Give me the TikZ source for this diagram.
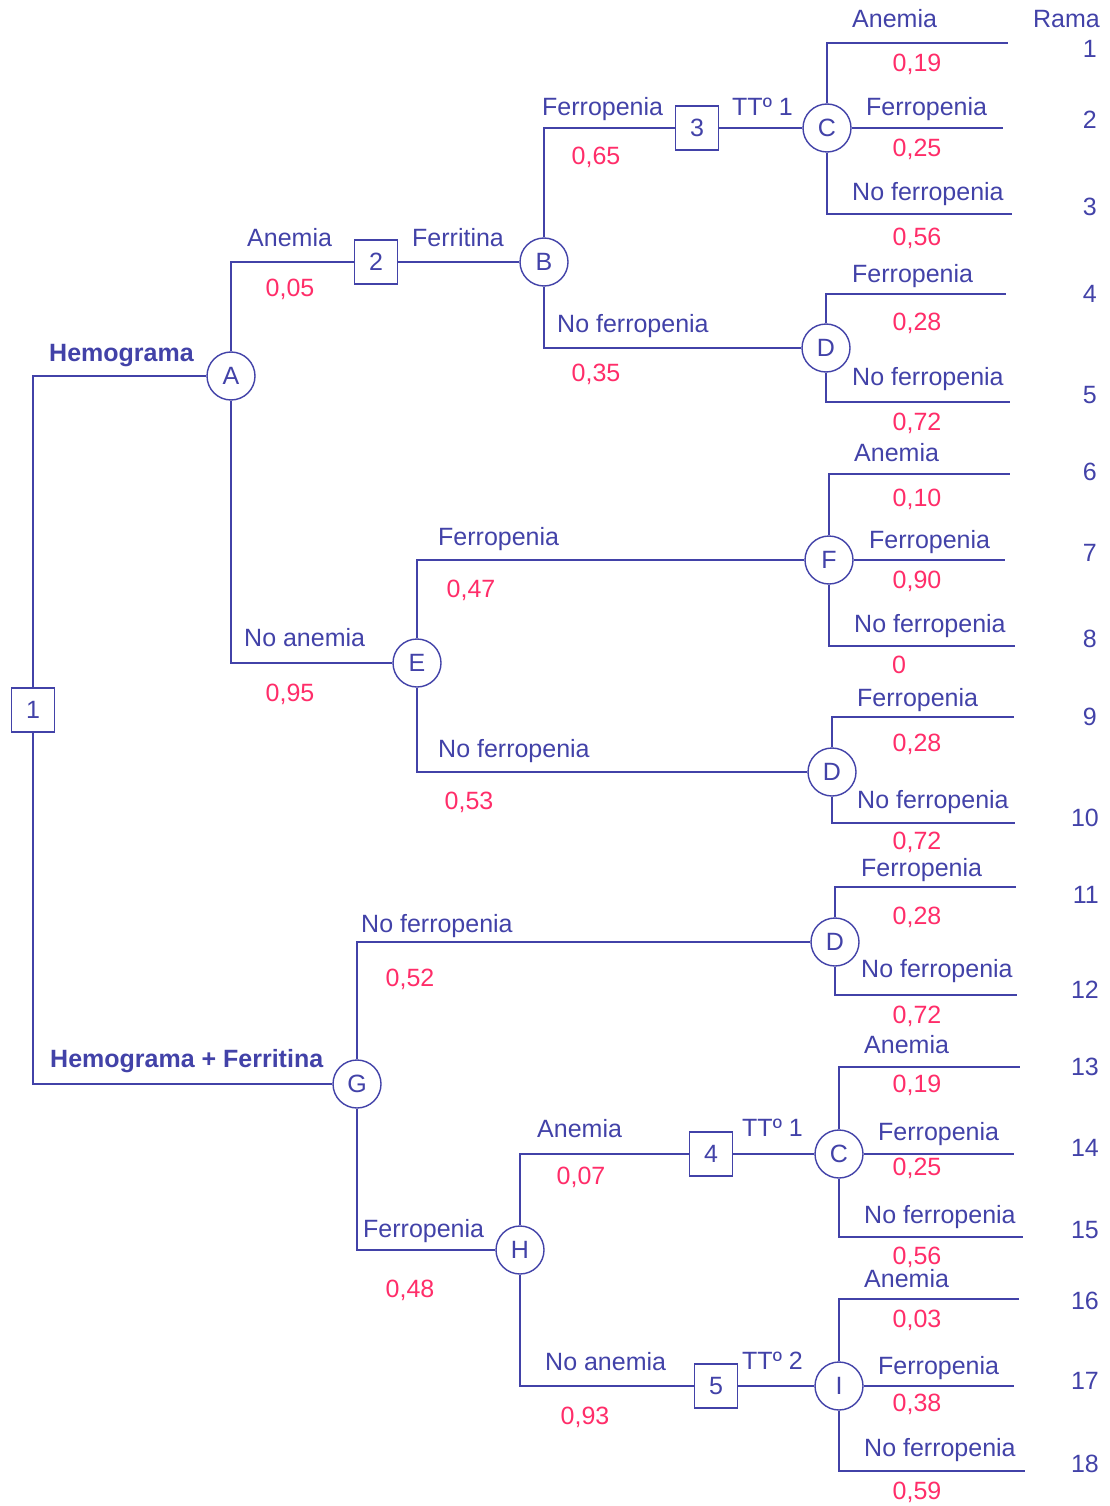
\documentclass[tikz,border=0pt]{standalone}
\usepackage{fontspec}
\setmainfont{Liberation Sans}
\definecolor{tb}{RGB}{66,66,168}
\definecolor{tp}{RGB}{255,45,105}
\tikzset{
  every node/.style={font=\fontsize{25}{30}\selectfont},
  ln/.style={draw=tb, line width=1.4pt},
  chance/.style={circle, draw=tb, line width=1.4pt, fill=white, text=tb, minimum size=48pt, inner sep=0pt},
  decis/.style={rectangle, draw=tb, line width=1.4pt, fill=white, text=tb, minimum width=43pt, minimum height=44pt, inner sep=0pt},
  lbl/.style={text=tb, anchor=base west, inner sep=0pt},
  blbl/.style={text=tb, anchor=base west, inner sep=0pt, font=\fontsize{25}{30}\selectfont\bfseries},
  prob/.style={text=tp, anchor=base, inner sep=0pt},
  rama/.style={text=tb, anchor=base east, inner sep=0pt}
}
\begin{document}
\begin{tikzpicture}[x=1pt,y=-1pt]
\useasboundingbox (0,0) rectangle (1110,1506);
% nodes
\node[decis] (n1) at (33,710) {1};
\node[chance] (A) at (231,376) {A};
\node[decis] (n2) at (376,262) {2};
\node[chance] (B) at (544,262) {B};
\node[decis] (n3) at (697,128) {3};
\node[chance] (C1) at (827,128) {C};
\node[chance] (D1) at (826,348) {D};
\node[chance] (E) at (417,663) {E};
\node[chance] (F) at (829,560) {F};
\node[chance] (D2) at (832,772) {D};
\node[chance] (G) at (357,1084) {G};
\node[chance] (D3) at (835,942) {D};
\node[chance] (H) at (520,1250) {H};
\node[decis] (n4) at (711,1154) {4};
\node[chance] (C2) at (839,1154) {C};
\node[decis] (n5) at (716,1386) {5};
\node[chance] (I) at (839,1386) {I};
% leaf ends
\coordinate (l1) at (1008,43);
\coordinate (l2) at (1003,128);
\coordinate (l3) at (1012,214);
\coordinate (l4) at (1006,294);
\coordinate (l5) at (1010,402);
\coordinate (l6) at (1010,474);
\coordinate (l7) at (1005,560);
\coordinate (l8) at (1015,646);
\coordinate (l9) at (1014,717);
\coordinate (l10) at (1015,823);
\coordinate (l11) at (1016,887);
\coordinate (l12) at (1017,995);
\coordinate (l13) at (1020,1067);
\coordinate (l14) at (1014,1154);
\coordinate (l15) at (1023,1237);
\coordinate (l16) at (1019,1299);
\coordinate (l17) at (1014,1386);
\coordinate (l18) at (1025,1471);
% connectors
\draw[ln] (n1.north) |- (A.west);
\draw[ln] (n1.south) |- (G.west);
\draw[ln] (A.north) |- (n2.west);
\draw[ln] (n2.east) -- (B.west);
\draw[ln] (B.north) |- (n3.west);
\draw[ln] (n3.east) -- (C1.west);
\draw[ln] (B.south) |- (D1.west);
\draw[ln] (C1.north) |- (l1);
\draw[ln] (C1.east) -- (l2);
\draw[ln] (C1.south) |- (l3);
\draw[ln] (D1.north) |- (l4);
\draw[ln] (D1.south) |- (l5);
\draw[ln] (A.south) |- (E.west);
\draw[ln] (E.north) |- (F.west);
\draw[ln] (E.south) |- (D2.west);
\draw[ln] (F.north) |- (l6);
\draw[ln] (F.east) -- (l7);
\draw[ln] (F.south) |- (l8);
\draw[ln] (D2.north) |- (l9);
\draw[ln] (D2.south) |- (l10);
\draw[ln] (G.north) |- (D3.west);
\draw[ln] (G.south) |- (H.west);
\draw[ln] (D3.north) |- (l11);
\draw[ln] (D3.south) |- (l12);
\draw[ln] (H.north) |- (n4.west);
\draw[ln] (n4.east) -- (C2.west);
\draw[ln] (H.south) |- (n5.west);
\draw[ln] (n5.east) -- (I.west);
\draw[ln] (C2.north) |- (l13);
\draw[ln] (C2.east) -- (l14);
\draw[ln] (C2.south) |- (l15);
\draw[ln] (I.north) |- (l16);
\draw[ln] (I.east) -- (l17);
\draw[ln] (I.south) |- (l18);
% Rama
\node[rama] (rama) at (1100,28) {Rama};
\node[rama] (r1) at (1097,58) {1};
\node[rama] (r2) at (1097,129) {2};
\node[rama] (r3) at (1097,216) {3};
\node[rama] (r4) at (1097,302) {4};
\node[rama] (r5) at (1097,403) {5};
\node[rama] (r6) at (1097,480) {6};
\node[rama] (r7) at (1097,561) {7};
\node[rama] (r8) at (1097,647) {8};
\node[rama] (r9) at (1097,725) {9};
\node[rama] (r10) at (1099,826) {10};
\node[rama] (r11) at (1099,903) {11};
\node[rama] (r12) at (1099,998) {12};
\node[rama] (r13) at (1099,1075) {13};
\node[rama] (r14) at (1099,1156) {14};
\node[rama] (r15) at (1099,1238) {15};
\node[rama] (r16) at (1099,1309) {16};
\node[rama] (r17) at (1099,1389) {17};
\node[rama] (r18) at (1099,1472) {18};
% left labels
\node[blbl] (tHem) at (49,361) {Hemograma};
\node[blbl] (tHemF) at (50,1067) {Hemograma + Ferritina};
\node[lbl] (tA1) at (247,247) {Anemia};
\node[prob] (pA1) at (290,296) {0,05};
\node[lbl] (tFer) at (412,247) {Ferritina};
\node[lbl] (tB1) at (542,116) {Ferropenia};
\node[prob] (pB1) at (596,165) {0,65};
\node[lbl] (tT1) at (732,116) {TTº 1};
\node[lbl] (tB2) at (557,332) {No ferropenia};
\node[prob] (pB2) at (596,381) {0,35};
\node[lbl] (tA2) at (244,646) {No anemia};
\node[prob] (pA2) at (290,701) {0,95};
\node[lbl] (tE1) at (438,545) {Ferropenia};
\node[prob] (pE1) at (471,597) {0,47};
\node[lbl] (tE2) at (438,757) {No ferropenia};
\node[prob] (pE2) at (469,809) {0,53};
\node[lbl] (tG1) at (361,932) {No ferropenia};
\node[prob] (pG1) at (410,986) {0,52};
\node[lbl] (tG2) at (363,1237) {Ferropenia};
\node[prob] (pG2) at (410,1297) {0,48};
\node[lbl] (tH1) at (537,1137) {Anemia};
\node[prob] (pH1) at (581,1184) {0,07};
\node[lbl] (tT2) at (742,1136) {TTº 1};
\node[lbl] (tH2) at (545,1370) {No anemia};
\node[prob] (pH2) at (585,1424) {0,93};
\node[lbl] (tT3) at (742,1369) {TTº 2};
% C1
\node[lbl] (c1a) at (852,28) {Anemia};
\node[prob] (c1ap) at (917,72) {0,19};
\node[lbl] (c1b) at (866,116) {Ferropenia};
\node[prob] (c1bp) at (917,157) {0,25};
\node[lbl] (c1c) at (852,201) {No ferropenia};
\node[prob] (c1cp) at (917,246) {0,56};
% D1
\node[lbl] (d1a) at (852,282) {Ferropenia};
\node[prob] (d1ap) at (917,330) {0,28};
\node[lbl] (d1b) at (852,385) {No ferropenia};
\node[prob] (d1bp) at (917,430) {0,72};
% F
\node[lbl] (fa) at (854,461) {Anemia};
\node[prob] (fap) at (917,506) {0,10};
\node[lbl] (fb) at (869,548) {Ferropenia};
\node[prob] (fbp) at (917,588) {0,90};
\node[lbl] (fc) at (854,632) {No ferropenia};
\node[prob] (fcp) at (899,673) {0};
% D2
\node[lbl] (d2a) at (857,706) {Ferropenia};
\node[prob] (d2ap) at (917,751) {0,28};
\node[lbl] (d2b) at (857,808) {No ferropenia};
\node[prob] (d2bp) at (917,849) {0,72};
% D3
\node[lbl] (d3a) at (861,876) {Ferropenia};
\node[prob] (d3ap) at (917,924) {0,28};
\node[lbl] (d3b) at (861,977) {No ferropenia};
\node[prob] (d3bp) at (917,1023) {0,72};
% C2
\node[lbl] (c2a) at (864,1053) {Anemia};
\node[prob] (c2ap) at (917,1092) {0,19};
\node[lbl] (c2b) at (878,1140) {Ferropenia};
\node[prob] (c2bp) at (917,1175) {0,25};
\node[lbl] (c2c) at (864,1223) {No ferropenia};
\node[prob] (c2cp) at (917,1264) {0,56};
% I
\node[lbl] (ia) at (864,1287) {Anemia};
\node[prob] (iap) at (917,1327) {0,03};
\node[lbl] (ib) at (878,1374) {Ferropenia};
\node[prob] (ibp) at (917,1411) {0,38};
\node[lbl] (ic) at (864,1456) {No ferropenia};
\node[prob] (icp) at (917,1499) {0,59};
\end{tikzpicture}
\end{document}
